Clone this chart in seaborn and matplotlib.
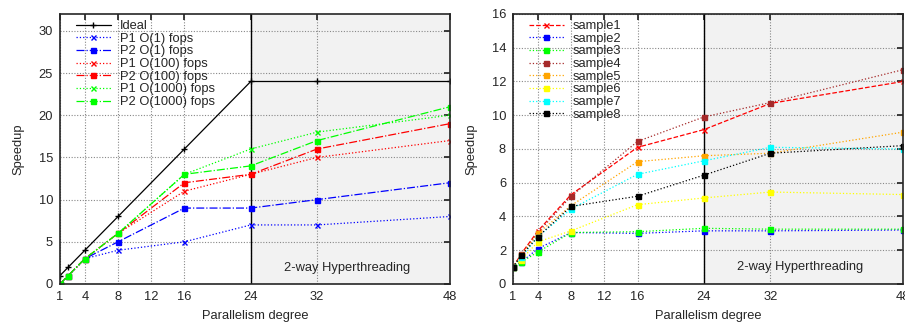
import matplotlib
matplotlib.use("Agg")
import matplotlib.pyplot as plt
import seaborn as sns

# shared x values (parallelism degree)
degrees = [1, 2, 4, 8, 16, 24, 32, 48]
x_ticks = [1, 4, 8, 12, 16, 24, 32, 48]

# left panel
ideal = [1, 2, 4, 8, 16, 24, 24, 24]
p1_o1 = [0, 1, 3, 4, 5, 7, 7, 8]
p2_o1 = [0, 1, 3, 5, 9, 9, 10, 12]
p1_o100 = [0, 1, 3, 6, 11, 13, 15, 17]
p2_o100 = [0, 1, 3, 6, 12, 13, 16, 19]
p1_o1000 = [0, 1, 3, 6, 13, 16, 18, 20]
p2_o1000 = [0, 1, 3, 6, 13, 14, 17, 21]

# right panel
sample1 = [1, 1.8, 3.15, 5.3, 8.1, 9.15, 10.7, 12.0]
sample2 = [1, 1.3, 2.1, 3.05, 3.0, 3.15, 3.15, 3.2]
sample3 = [1, 1.3, 1.9, 3.05, 3.1, 3.3, 3.25, 3.25]
sample4 = [1, 1.75, 3.05, 5.2, 8.45, 9.9, 10.75, 12.7]
sample5 = [1, 1.7, 3.0, 4.65, 7.25, 7.6, 7.75, 9.0]
sample6 = [1, 1.45, 2.5, 3.15, 4.7, 5.1, 5.45, 5.3]
sample7 = [1, 1.6, 2.8, 4.45, 6.5, 7.3, 8.1, 8.0]
sample8 = [1, 1.7, 2.8, 4.6, 5.2, 6.45, 7.75, 8.2]

FS = 9.3


def style_axis(ax, yticks):
    ax.axvspan(24, 48, color="#f2f2f2", zorder=0, lw=0)
    ax.axvline(24, color="black", lw=1.0, zorder=1)
    ax.set_xlim(1, 48)
    ax.set_xticks(x_ticks)
    ax.set_yticks(yticks)
    ax.grid(True, color="#888888", linestyle=(0, (1, 1.5)), lw=0.8)
    ax.set_axisbelow(True)
    ax.tick_params(direction="in", top=True, right=True, length=4, labelsize=FS, pad=5)
    for s in ax.spines.values():
        s.set_linewidth(1.2)
        s.set_zorder(5)
    ax.set_xlabel("Parallelism degree", fontsize=FS, labelpad=5)
    ax.set_ylabel("Speedup", fontsize=FS, labelpad=10)


def draw(ax, values, color, ls, marker, label, ms=3.6, lw=0.9):
    sns.lineplot(x=degrees, y=values, ax=ax, color=color, linestyle=ls, marker=marker,
                 markersize=ms, markeredgewidth=1.0, markeredgecolor=color,
                 linewidth=lw, label=label, zorder=3)


sns.set_theme(style="white")
plt.rcParams["font.family"] = ["Liberation Sans", "DejaVu Sans"]

fig = plt.figure(figsize=(9.05, 3.27), dpi=100)
ax1 = fig.add_axes([0.0663, 0.1315, 0.4307, 0.8257])
ax2 = fig.add_axes([0.5669, 0.1315, 0.4310, 0.8257])

style_axis(ax1, [0, 5, 10, 15, 20, 25, 30])
ax1.set_ylim(0, 32)
draw(ax1, ideal, "black", "-", "+", "Ideal", ms=4)
draw(ax1, p1_o1, "blue", ":", "x", "P1 O(1) fops")
draw(ax1, p2_o1, "blue", "-.", "s", "P2 O(1) fops")
draw(ax1, p1_o100, "red", ":", "x", "P1 O(100) fops")
draw(ax1, p2_o100, "red", "-.", "s", "P2 O(100) fops")
draw(ax1, p1_o1000, "#00ff00", ":", "x", "P1 O(1000) fops")
draw(ax1, p2_o1000, "#00ff00", "-.", "s", "P2 O(1000) fops")
ax1.text(35.6, 1.9, "2-way Hyperthreading", ha="center", va="center", fontsize=FS, zorder=4)

style_axis(ax2, [0, 2, 4, 6, 8, 10, 12, 14, 16])
ax2.set_ylim(0, 16)
draw(ax2, sample1, "red", "--", "x", "sample1")
draw(ax2, sample2, "blue", ":", "s", "sample2")
draw(ax2, sample3, "#00ff00", ":", "s", "sample3")
draw(ax2, sample4, "#a52a2a", ":", "s", "sample4")
draw(ax2, sample5, "#ffa500", ":", "s", "sample5")
draw(ax2, sample6, "#ffff00", ":", "s", "sample6")
draw(ax2, sample7, "#00ffff", ":", "s", "sample7")
draw(ax2, sample8, "black", ":", "s", "sample8")
ax2.text(35.6, 1.0, "2-way Hyperthreading", ha="center", va="center", fontsize=FS, zorder=4)

for ax in (ax1, ax2):
    ax.legend(loc="upper left", bbox_to_anchor=(16 / 390, 1 - 6 / 270), frameon=False,
              fontsize=FS, handlelength=2.7, labelspacing=0.05, borderpad=0,
              borderaxespad=0, handletextpad=0.7)

fig.savefig("out.png", dpi=100)
